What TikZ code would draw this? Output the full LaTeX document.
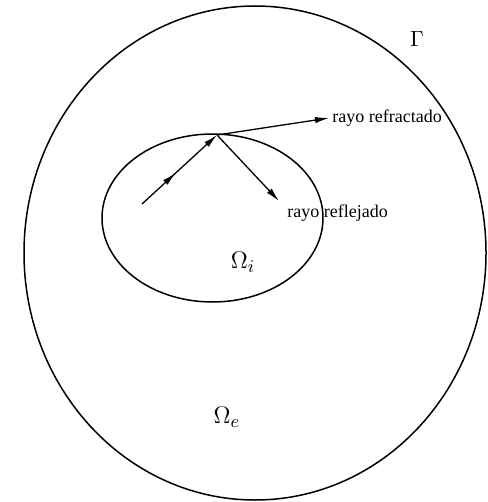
\documentclass[tikz,border=0pt]{standalone}
\usepackage{fontspec}
\setmainfont{Liberation Serif}
\usetikzlibrary{arrows.meta,decorations.markings}
\begin{document}
\begin{tikzpicture}[x=0.5pt,y=-0.5pt,
  curve/.style={line width=0.75pt},
  ray/.style={line width=0.65pt,-{Latex[length=7pt,width=3.2pt]}},
  lab/.style={inner sep=0pt,font=\fontsize{9}{10}\selectfont},
  midarrow/.style={postaction={decorate},decoration={markings,
     mark=at position 0.45 with {\arrow{Latex[length=7pt,width=3.2pt]}}}}]
\useasboundingbox (0,0) rectangle (487,502);
% outer domain boundary Gamma
\draw[curve] (255,253) ellipse [x radius=231, y radius=247];
% inner domain
\draw[curve] (212.5,218) ellipse [x radius=110.5, y radius=84];
% points
\coordinate (src) at (142,204);
\coordinate (hit) at (217,135);
\coordinate (refr) at (329,118);
\coordinate (refl) at (279,201);
% rays
\draw[ray,midarrow] (src) -- (hit);
\draw[ray] (hit) -- (refr);
\draw[ray] (hit) -- (refl);
% labels
\node[lab,anchor=west] (lrefr) at (332,118) {rayo refractado};
\node[lab,anchor=west] (lrefl) at (287,213) {rayo reflejado};
\node[inner sep=0pt,font=\fontsize{11}{12}\selectfont] (gam) at (417,39) {$\Gamma$};
\node[inner sep=0pt,font=\fontsize{13}{14}\selectfont] (omi) at (243,262) {$\Omega_{\scriptstyle i}$};
\node[inner sep=0pt,font=\fontsize{13}{14}\selectfont] (ome) at (227,417) {$\Omega_{\scriptstyle e}$};
\end{tikzpicture}
\end{document}
